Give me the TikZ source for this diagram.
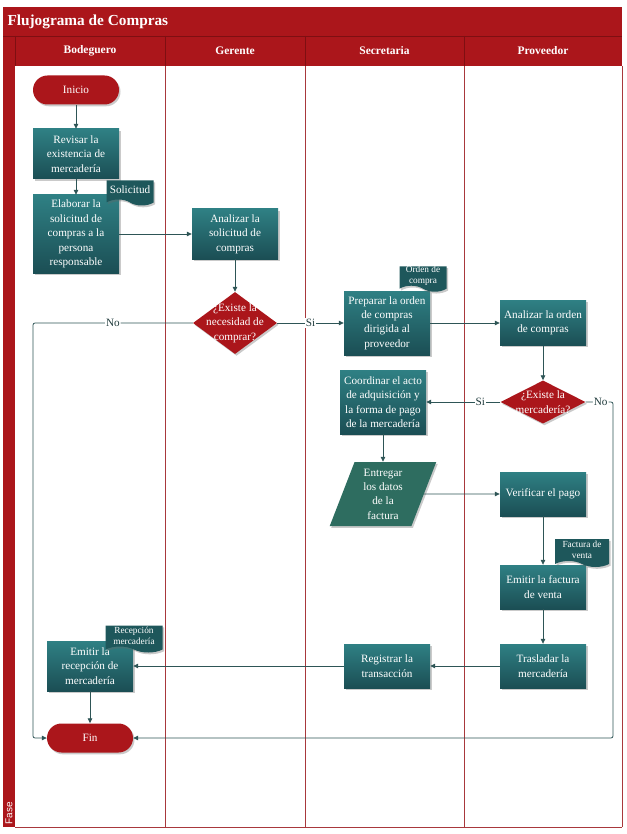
\documentclass[tikz,border=0pt]{standalone}
\usepackage{fontspec}
\setmainfont{Liberation Serif}
\setsansfont{Liberation Sans}
\usetikzlibrary{positioning,arrows.meta,shapes.geometric,shapes.symbols,shadows,calc}
\definecolor{rojo}{HTML}{AB161B}
\definecolor{rojooscuro}{HTML}{7E0F12}
\definecolor{carril}{HTML}{A8383C}
\definecolor{verdeclaro}{HTML}{2F8084}
\definecolor{verdeoscuro}{HTML}{1B4E54}
\definecolor{verdedoc}{HTML}{1E575B}
\definecolor{verdepar}{HTML}{2E6D60}
\definecolor{conector}{HTML}{2E5556}

\tikzset{
  sombra/.style={drop shadow={shadow xshift=1.5pt, shadow yshift=-1.8pt, opacity=0.35, fill=black!60}},
  caja/.style={rectangle, top color=verdeclaro, bottom color=verdeoscuro, text=white,
               align=center, minimum width=86pt, inner sep=1pt, sombra},
  terminal/.style={rectangle, rounded corners=14.5pt, fill=rojo, text=white,
                   minimum width=86pt, minimum height=29pt, sombra},
  rombo/.style={diamond, fill=rojo, inner sep=0pt, sombra},
  rombotexto/.style={text=white, align=center},
  datos/.style={trapezium, trapezium left angle=71, trapezium right angle=109,
                trapezium stretches=true, fill=verdepar, text=white, align=center,
                inner sep=1pt, minimum width=107pt, minimum height=64pt, sombra},
  documento/.style={tape, tape bend top=none, tape bend bottom=out and in,
                    tape bend height=6pt, fill=verdedoc, text=white, align=center,
                    inner sep=0pt, sombra},
  flecha/.style={draw=conector, line width=0.8pt, -{Triangle[length=5pt,width=4.5pt]}},
  etiqueta/.style={fill=white, text=conector!70!black, inner sep=1pt},
  cabecera/.style={text=white, font=\fontsize{11.5}{13}\selectfont\bfseries},
  pequena/.style={font=\fontsize{9.3}{11}\selectfont},
}

\begin{document}
\begin{tikzpicture}[x=1pt, y=-1pt, font=\fontsize{11.2}{14.4}\selectfont]
  \useasboundingbox (0,0) rectangle (626,834);
  % marco y carriles
  \fill[rojo] (3,7) rectangle (622,66);
  \fill[rojo] (3,66) rectangle (15,827);
  \draw[rojooscuro, line width=0.8pt] (3,36) -- (622,36);
  \foreach \x in {165,305,464,622}
    \draw[carril, line width=1pt] (\x,66) -- (\x,827);
  \foreach \x in {15,165,305,464}
    \draw[rojooscuro, line width=0.8pt] (\x,36) -- (\x,66);
  \draw[carril, line width=1pt] (15,827) -- (622,827);
  \node[anchor=west, text=white, font=\fontsize{15.3}{18}\selectfont\bfseries] (titulo) at (4,22) {Flujograma de Compras};
  \foreach \x/\nom [count=\i] in {90/Bodeguero,235/Gerente,384.5/Secretaria,543/Proveedor}
    \node[cabecera] (col\i) at (\x,51) {\nom};
  \node[rotate=90, text=white, font=\sffamily\fontsize{10}{12}\selectfont] (fase) at (9,813) {Fase};
  \coordinate (izq) at (33,0);
  \coordinate (der) at (613,0);

  % actividades
  \node[terminal] (inicio) at (76,90) {Inicio};
  \node[caja, minimum height=50pt] (revisar) at (76,154) {Revisar la\\existencia de\\mercadería};
  \node[caja, minimum height=78pt] (elaborar) at (76,234) {Elaborar la\\solicitud de\\compras a la\\persona\\responsable};
  \node[caja, minimum height=50pt] (analsol) at (235,234) {Analizar la\\solicitud de\\compras};
  \node[rombo, minimum width=84pt, minimum height=62pt,
        label={[rombotexto]center:{¿Existe la\\necesidad de\\comprar?}}] (rombo1) at (235,323) {};
  \node[caja, minimum height=64pt] (preparar) at (387,323) {Preparar la orden\\de compras\\dirigida al\\proveedor};
  \node[caja, minimum height=45pt] (analorden) at (543,323) {Analizar la orden\\de compras};
  \node[rombo, minimum width=85pt, minimum height=43pt,
        label={[rombotexto]center:{¿Existe la\\mercadería?}}] (rombo2) at (543,402) {};
  \node[caja, minimum height=64pt] (coordinar) at (383,402) {Coordinar el acto\\de adquisición y\\la forma de pago\\de la mercadería};
  \node[datos] (entregar) at (383,494) {Entregar\\los datos\\de la\\factura};
  \node[caja, minimum height=44pt] (verificar) at (543,494) {Verificar el pago};
  \node[caja, minimum height=44pt] (factura) at (543,587) {Emitir la factura\\de venta};
  \node[caja, minimum height=44pt] (trasladar) at (543,666) {Trasladar la\\mercadería};
  \node[caja, minimum height=44pt] (registrar) at (387,666) {Registrar la\\transacción};
  \node[caja, minimum height=50pt] (recepcion) at (90,666) {Emitir la\\recepción de\\mercadería};
  \node[terminal] (fin) at (90,738) {Fin};

  % conectores
  \draw[flecha] (inicio) -- (revisar);
  \draw[flecha] (revisar) -- (elaborar);
  \draw[flecha] (elaborar) -- (analsol);
  \draw[flecha] (analsol) -- (rombo1);
  \draw[flecha] (rombo1) -- node[etiqueta]{Si} (preparar);
  \draw[flecha] (preparar) -- (analorden);
  \draw[flecha] (analorden) -- (rombo2);
  \draw[flecha] (rombo2) -- node[etiqueta, pos=0.27]{Si} (coordinar);
  \draw[flecha] (coordinar) -- (entregar);
  \draw[flecha] (entregar) -- (verificar);
  \draw[flecha] (verificar) -- (factura);
  \draw[flecha] (factura) -- (trasladar);
  \draw[flecha] (trasladar) -- (registrar);
  \draw[flecha] (registrar) -- (recepcion);
  \draw[flecha] (recepcion) -- (fin);
  \draw[flecha, rounded corners=2pt] (rombo1.west) -- node[etiqueta]{No} (rombo1.west -| izq) |- (fin.west);
  \draw[flecha, rounded corners=2pt] (rombo2.east) -- node[etiqueta, pos=0.55]{No} (rombo2.east -| der) |- (fin.east);

  % documentos
  \node[documento, minimum width=47pt, minimum height=25pt] (solicitud) at (130,190) {Solicitud};
  \node[documento, pequena, minimum width=47pt, minimum height=24pt] (orden) at (423,276) {Orden de\\compra};
  \node[documento, pequena, minimum width=54pt, minimum height=28pt] (docfactura) at (582,550) {Factura de\\venta};
  \node[documento, pequena, minimum width=57pt, minimum height=27pt] (docrecep) at (134,636) {Recepción\\mercadería};
\end{tikzpicture}
\end{document}
